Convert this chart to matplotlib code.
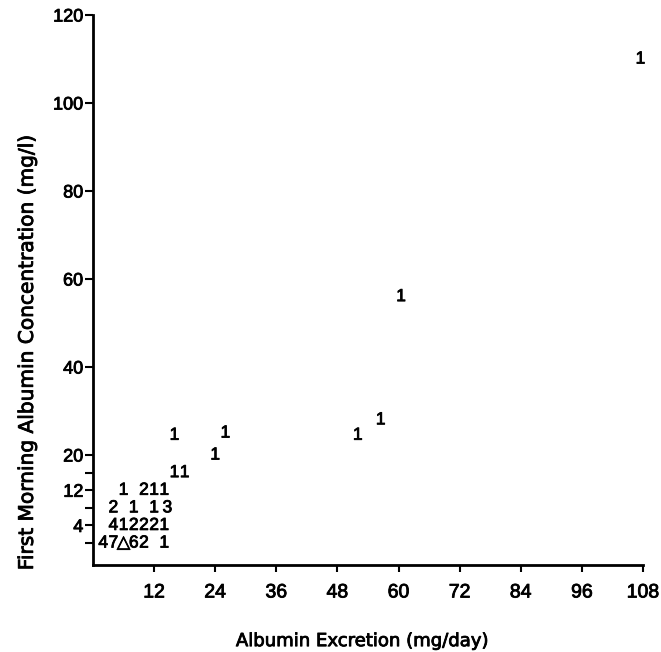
import matplotlib
matplotlib.use("Agg")
import matplotlib.pyplot as plt
import matplotlib.patheffects as pe

plt.rcParams['font.family'] = ['Liberation Sans', 'DejaVu Sans']

# counts plotted as digits at (excretion, concentration)
x_vals = [2, 4, 6, 8, 10, 14,
          4, 6, 8, 10, 12, 14,
          4, 8, 12, 14.6,
          6, 10, 12, 14,
          16, 18,
          16, 26, 24, 52, 56.5, 60.5, 107.5]
y_vals = [0, 0, 0, 0, 0, 0,
          4, 4, 4, 4, 4, 4,
          8, 8, 8, 8,
          12, 12, 12, 12,
          16, 16,
          24.5, 25, 20, 24.5, 28, 56, 110]
counts = ['4', '7', '\u25b3', '6', '2', '1',
          '4', '1', '2', '2', '2', '1',
          '2', '1', '1', '3',
          '1', '2', '1', '1',
          '1', '1',
          '1', '1', '1', '1', '1', '1', '1']

x_ticks = [12, 24, 36, 48, 60, 72, 84, 96, 108]
y_ticks = [4, 12, 20, 40, 60, 80, 100, 120]
y_minor = [0, 8, 16]

# scanned figure: text a little heavier than regular
thick = [pe.withStroke(linewidth=0.6, foreground='black')]

fig = plt.figure(figsize=(6.61, 6.52), dpi=100)
ax = fig.add_axes([0.1407, 0.1334, 0.8321, 0.8436])

for x, y, c in zip(x_vals, y_vals, counts):
    ax.text(x, y, c, ha='center', va='center', fontsize=12.5, color='black',
            path_effects=thick)

ax.set_xlim(0, 108)
ax.set_ylim(-5, 120)
ax.set_xticks(x_ticks)
ax.set_yticks(y_ticks)
ax.set_yticks(y_minor, minor=True)

for side in ['top', 'right']:
    ax.spines[side].set_visible(False)
for side in ['left', 'bottom']:
    ax.spines[side].set_linewidth(2.0)

ax.tick_params(axis='x', direction='out', length=5, width=1.5, pad=9, labelsize=14)
ax.tick_params(axis='y', which='major', direction='out', length=6, width=1.5, pad=1, labelsize=13)
ax.tick_params(axis='y', which='minor', direction='out', length=6, width=1.5)
for lab in ax.get_xticklabels() + ax.get_yticklabels():
    lab.set_path_effects(thick)

ax.set_xlabel("Albumin Excretion (mg/day)", fontsize=13, family='DejaVu Sans',
              path_effects=thick)
ax.set_ylabel("First Morning Albumin Concentration (mg/l)", fontsize=14.5,
              family='DejaVu Sans', path_effects=thick)
ax.xaxis.set_label_coords(0.489, -0.122)
ax.yaxis.set_label_coords(-0.102, 0.387)

fig.savefig("out.png", dpi=100)
